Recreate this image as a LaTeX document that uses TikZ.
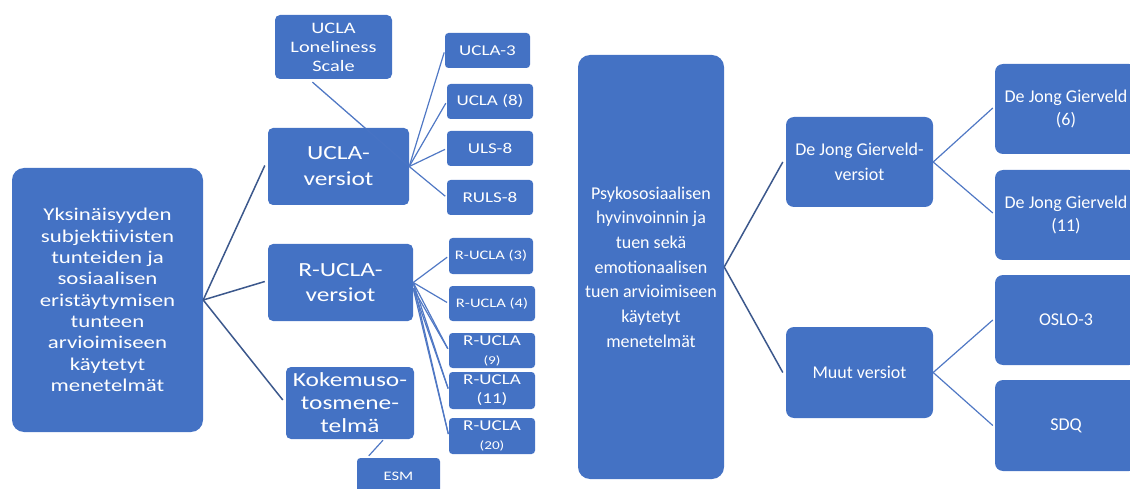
\documentclass[tikz,border=0pt]{standalone}
\usepackage{fontspec}
\setmainfont{Carlito}
\newfontfamily\widefont{Carlito}[FakeStretch=1.27]
\usetikzlibrary{calc}
\pgfdeclarelayer{background}
\pgfsetlayers{background,main}
\definecolor{boxblue}{HTML}{4472C4}
\definecolor{linedark}{RGB}{60,88,140}
\definecolor{linelight}{RGB}{80,120,196}
\tikzset{
  box/.style={draw=none, fill=boxblue, text=white, align=center, inner sep=0pt, rounded corners=5pt},
  bigbox/.style={box, rounded corners=12pt},
  smallbox/.style={box, rounded corners=3.5pt},
  conn/.style={draw=linedark, line width=1.5pt},
  connl/.style={draw=linelight, line width=1.2pt},
}
\begin{document}
\begin{tikzpicture}[x=1pt,y=-1pt]
\useasboundingbox (0,0) rectangle (1130,489);
\clip (0,0) rectangle (1130,489);
% ---------------- left tree ----------------
\node[bigbox, minimum width=191pt, minimum height=264pt, font=\widefont\fontsize{18}{21.3}\selectfont] (root) at (107.5,300)
  {Yksinäisyyden\\subjektiivisten\\tunteiden ja\\sosiaalisen\\eristäytymisen\\tunteen\\arvioimiseen\\käytetyt\\menetelmät};
\node[box, minimum width=117pt, minimum height=64pt, font=\widefont\fontsize{16}{19}\selectfont] (ls) at (333.5,47)
  {UCLA\\Loneliness\\Scale};
\node[box, minimum width=141pt, minimum height=77pt, font=\widefont\fontsize{20}{26}\selectfont] (ucla) at (338.5,166.5)
  {UCLA-\\versiot};
\node[box, minimum width=145pt, minimum height=77pt, font=\widefont\fontsize{20}{25}\selectfont] (rucla) at (340.5,282.5)
  {R-UCLA-\\versiot};
\node[box, minimum width=128pt, minimum height=72pt, font=\widefont\fontsize{20}{23}\selectfont] (koke) at (350,403)
  {Kokemuso-\\tosmene-\\telmä};
\node[smallbox, minimum width=83pt, minimum height=37pt, font=\widefont\fontsize{13}{15}\selectfont] (esm) at (398.5,476.5) {ESM};

\node[smallbox, minimum width=85pt, minimum height=35pt, font=\widefont\fontsize{15}{18}\selectfont] (u3) at (487.5,50.5) {UCLA-3};
\node[smallbox, minimum width=86pt, minimum height=35pt, font=\widefont\fontsize{15}{18}\selectfont] (u8) at (490,101.5) {UCLA (8)};
\node[smallbox, minimum width=86pt, minimum height=35pt, font=\widefont\fontsize{15}{18}\selectfont] (uls) at (490,148.5) {ULS-8};
\node[smallbox, minimum width=86pt, minimum height=35pt, font=\widefont\fontsize{15}{18}\selectfont] (ruls) at (490,197.5) {RULS-8};

\node[smallbox, minimum width=84pt, minimum height=36pt, font=\widefont\fontsize{13}{16}\selectfont] (r3) at (491,256) {R-UCLA (3)};
\node[smallbox, minimum width=86pt, minimum height=35pt, font=\widefont\fontsize{13}{16}\selectfont] (r4) at (492,303.5) {R-UCLA (4)};
\node[smallbox, minimum width=86pt, minimum height=35pt, font=\widefont\fontsize{15}{19}\selectfont] (r9) at (492,350.5) {R-UCLA\\{\fontsize{12}{14}\selectfont (9)}};
\node[smallbox, minimum width=86pt, minimum height=37pt, font=\widefont\fontsize{15}{19}\selectfont] (r11) at (492,390.5) {R-UCLA\\(11)};
\node[smallbox, minimum width=86pt, minimum height=36pt, font=\widefont\fontsize{15}{19}\selectfont] (r20) at (492,436) {R-UCLA\\{\fontsize{12}{14}\selectfont (20)}};

% connectors left
\draw[conn] (root.east) -- ($(ucla.west)+(-3,-1)$);
\draw[conn] (root.east) -- ($(rucla.west)+(-3,-1)$);
\draw[conn] (root.east) -- ($(koke.west)+(-3,-3)$);
\begin{pgfonlayer}{background}
  \draw[connl] (ucla.east) -- ($(ls.south)+(-21,3)$);
\end{pgfonlayer}
\draw[connl, draw opacity=0.3] (ucla.east) -- ($(ls.south)+(-21,3)$);
\foreach \c in {u3,u8,uls,ruls}{\draw[connl, shorten >=2pt] (ucla.east) -- (\c.west);}
\foreach \c in {r3,r4,r9,r11,r20}{\draw[connl, shorten >=2pt] (rucla.east) -- (\c.west);}
\draw[connl, shorten >=2pt] ($(rucla.east)+(0,6)$) -- (r9.west);
\draw[connl, shorten >=2pt] ($(rucla.east)+(0,6)$) -- (r11.west);
\draw[connl, shorten >=2pt] ($(rucla.east)+(0,6)$) -- (r20.west);
\draw[connl] ($(koke.south)+(33,1)$) -- ($(esm.north west)+(12,-2)$);

% ---------------- right tree ----------------
\node[bigbox, minimum width=146pt, minimum height=424pt, font=\fontsize{18}{24.7}\selectfont] (psy) at (651,267)
  {Psykososiaalisen\\hyvinvoinnin ja\\tuen sekä\\emotionaalisen\\tuen arvioimiseen\\käytetyt\\menetelmät};
\node[box, rounded corners=8pt, minimum width=147pt, minimum height=90pt, font=\fontsize{18}{25}\selectfont] (djgv) at (859.5,162)
  {De Jong Gierveld-\\versiot};
\node[box, rounded corners=8pt, minimum width=147pt, minimum height=91pt, font=\fontsize{18}{23}\selectfont] (muut) at (859.5,372.5)
  {Muut versiot};
\node[box, rounded corners=8pt, minimum width=142pt, minimum height=90pt, font=\fontsize{18}{23}\selectfont] (d6) at (1066,109)
  {De Jong Gierveld\\(6)};
\node[box, rounded corners=8pt, minimum width=142pt, minimum height=90pt, font=\fontsize{18}{23}\selectfont] (d11) at (1066,215)
  {De Jong Gierveld\\(11)};
\node[box, rounded corners=8pt, minimum width=142pt, minimum height=90pt, font=\fontsize{18}{23}\selectfont] (oslo) at (1066,320)
  {OSLO-3};
\node[box, rounded corners=8pt, minimum width=142pt, minimum height=91pt, font=\fontsize{18}{23}\selectfont] (sdq) at (1066,425.5)
  {SDQ};

\draw[conn] (psy.east) -- ($(djgv.west)+(-3,0)$);
\draw[conn] (psy.east) -- ($(muut.west)+(-3,0)$);
\draw[connl] (djgv.east) -- ($(d6.west)+(-2,-1)$);
\draw[connl] (djgv.east) -- ($(d11.west)+(-2,-2)$);
\draw[connl] (muut.east) -- ($(oslo.west)+(-2,0)$);
\draw[connl] (muut.east) -- ($(sdq.west)+(-2,0)$);
\end{tikzpicture}
\end{document}
